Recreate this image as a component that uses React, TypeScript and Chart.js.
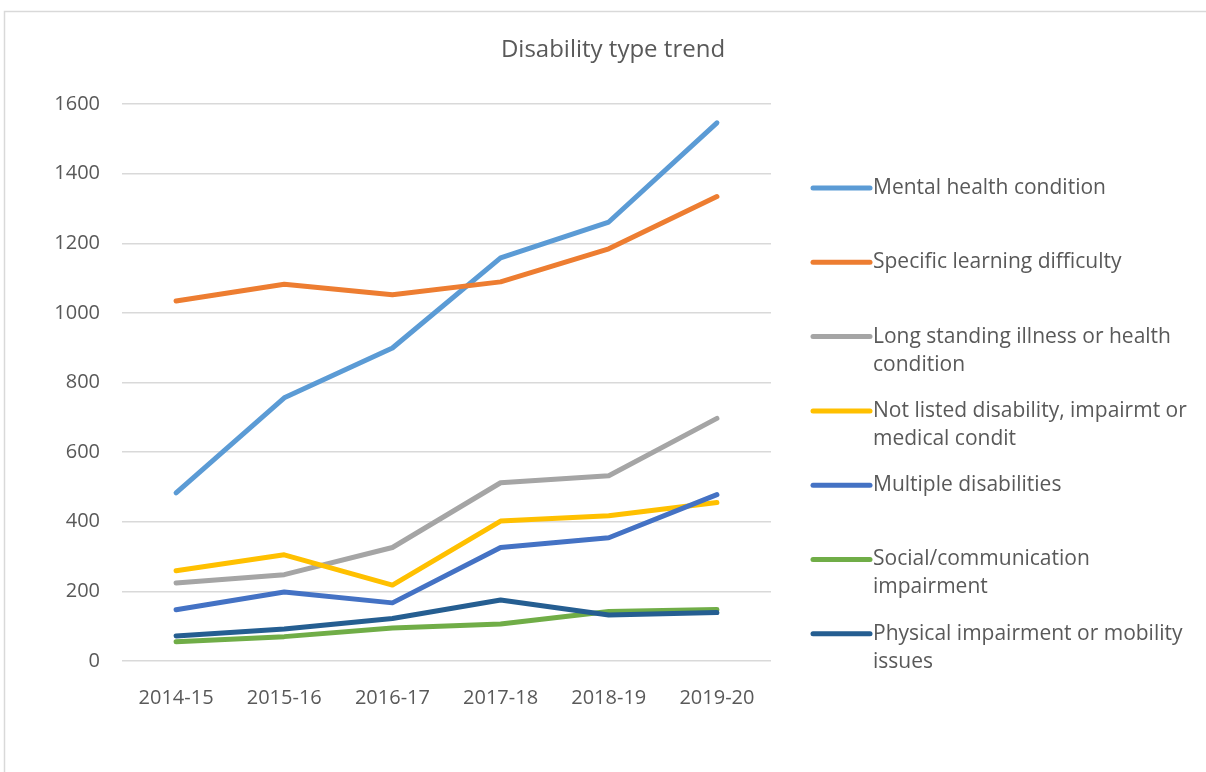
import { useEffect, useRef } from "react";
import { Chart, registerables } from "chart.js";
Chart.register(...registerables);

const categories = ["2014-15", "2015-16", "2016-17", "2017-18", "2018-19", "2019-20"];
const yTicks = [0, 200, 400, 600, 800, 1000, 1200, 1400, 1600];
const chartTitle = "Disability type trend";

const mentalHealth = [483, 756, 899, 1158, 1261, 1546];
const specificLearning = [1034, 1082, 1052, 1089, 1184, 1334];
const longStanding = [224, 248, 326, 512, 532, 697];
const notListed = [259, 305, 218, 402, 417, 455];
const multiple = [147, 198, 167, 326, 354, 478];
const socialComm = [55, 70, 95, 106, 142, 148];
const physical = [72, 92, 122, 175, 132, 139];

const seriesLabels = [
  "Mental health condition",
  "Specific learning difficulty",
  "Long standing illness or health condition",
  "Not listed disability, impairmt or medical condit",
  "Multiple disabilities",
  "Social/communication impairment",
  "Physical impairment or mobility issues",
];
const seriesValues = [mentalHealth, specificLearning, longStanding, notListed, multiple, socialComm, physical];
const seriesColors = ["#5B9BD5", "#ED7D31", "#A5A5A5", "#FFC000", "#4472C4", "#70AD47", "#255E91"];

const FONT = "'Open Sans', 'Noto Sans', sans-serif";
const TEXT = "#595959";

const framePlugin = {
  id: "frame",
  beforeDraw(chart: any) {
    const ctx = chart.ctx;
    ctx.save();
    ctx.fillStyle = "#ffffff";
    ctx.fillRect(0, 0, chart.width, chart.height);
    ctx.strokeStyle = "#d9d9d9";
    ctx.lineWidth = 1.5;
    ctx.strokeRect(4.5, 11.5, chart.width + 20, chart.height + 20);
    ctx.fillStyle = TEXT;
    ctx.font = `24px ${FONT}`;
    ctx.textAlign = "center";
    ctx.textBaseline = "middle";
    ctx.fillText(chartTitle, 613, 50);
    ctx.restore();
  },
};

const legendPlugin = {
  id: "sideLegend",
  afterDraw(chart: any) {
    const ctx = chart.ctx;
    const ds = chart.data.datasets;
    const x0 = 813;
    const x1 = 870;
    const tx = 873;
    const startY = 188;
    const step = 74.3;
    const lineH = 28;
    const maxW = 324;
    ctx.save();
    ctx.font = `21px ${FONT}`;
    ctx.textBaseline = "middle";
    ctx.textAlign = "left";
    ds.forEach((d: any, i: number) => {
      const y = startY + i * step;
      ctx.strokeStyle = d.borderColor;
      ctx.lineWidth = 5;
      ctx.lineCap = "round";
      ctx.beginPath();
      ctx.moveTo(x0, y);
      ctx.lineTo(x1, y);
      ctx.stroke();
      const words = String(d.label).split(" ");
      const lines: string[] = [];
      let cur = "";
      words.forEach((w) => {
        const t = cur ? cur + " " + w : w;
        if (ctx.measureText(t).width > maxW && cur) {
          lines.push(cur);
          cur = w;
        } else cur = t;
      });
      if (cur) lines.push(cur);
      ctx.fillStyle = TEXT;
      lines.forEach((l, k) => ctx.fillText(l, tx, y + k * lineH));
    });
    ctx.restore();
  },
};

export default function App() {
  const ref = useRef<HTMLCanvasElement>(null);
  useEffect(() => {
    if (!ref.current) return;
    const n = seriesLabels.length;
    const chart = new Chart(ref.current, {
      type: "line",
      data: {
        labels: categories,
        datasets: seriesLabels.map((label, i) => ({
          label,
          data: seriesValues[i],
          borderColor: seriesColors[i],
          backgroundColor: seriesColors[i],
          borderWidth: 5,
          borderCapStyle: "round",
          borderJoinStyle: "round",
          pointRadius: 0,
          pointHoverRadius: 0,
          tension: 0,
          fill: false,
          order: n - 1 - i,
        })),
      },
      options: {
        animation: false,
        responsive: false,
        maintainAspectRatio: false,
        layout: { padding: { left: 0, right: 435, top: 104, bottom: 0 } },
        plugins: {
          legend: { display: false },
          tooltip: { enabled: false },
          title: { display: false },
        },
        scales: {
          x: {
            offset: true,
            grid: { display: false },
            border: { display: false },
            ticks: { color: TEXT, font: { family: FONT, size: 20 }, padding: 17, maxRotation: 0 },
            afterFit: (s: any) => {
              s.height = 111;
            },
          },
          y: {
            min: 0,
            max: 1600,
            afterBuildTicks: (s: any) => {
              s.ticks = yTicks.map((v) => ({ value: v }));
            },
            grid: { color: "#d9d9d9", lineWidth: 1.5, drawTicks: false },
            border: { display: false },
            ticks: {
              color: TEXT,
              font: { family: FONT, size: 20 },
              padding: 22,
              callback: (v: any) => String(v),
            },
            afterFit: (s: any) => {
              s.width = 122;
            },
          },
        },
      },
      plugins: [framePlugin, legendPlugin],
    } as any);
    return () => chart.destroy();
  }, []);
  return (
    <div style={{ position: "absolute", left: 0, top: 0, width: 1206, height: 772, background: "#fff" }}>
      <canvas ref={ref} width={1206} height={772} style={{ display: "block", width: 1206, height: 772 }} />
    </div>
  );
}
